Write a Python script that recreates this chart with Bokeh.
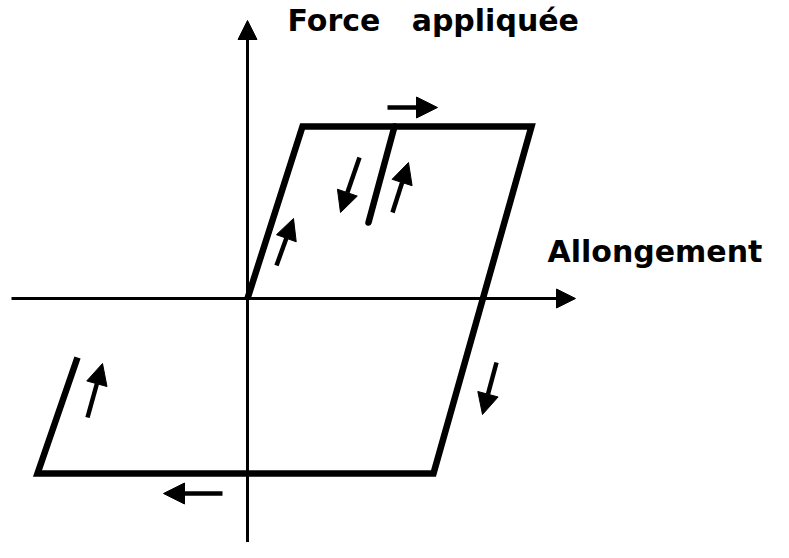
from bokeh.plotting import figure
from bokeh.models import Range1d, Arrow, NormalHead, ColumnDataSource
from bokeh.core.properties import value
from bokeh.embed import file_html
from bokeh.resources import INLINE

# Hysteresis loop (allongement, force) in arbitrary units
loop_x = [0.0, 0.55, 2.84, 1.86, -2.10, -1.70]
loop_y = [0.0, 1.72, 1.72, -1.75, -1.75, -0.59]

# Inner unloading / reloading branch
inner_x = [1.47, 1.21]
inner_y = [1.72, 0.76]

# Direction arrows (start -> end)
arr_x0 = [1.40, 1.12, 1.45, 0.29, 2.49, -0.25, -1.60]
arr_y0 = [1.91, 1.41, 0.86, 0.33, -0.64, -1.95, -1.19]
arr_x1 = [1.90, 0.93, 1.61, 0.46, 2.35, -0.84, -1.45]
arr_y1 = [1.91, 0.86, 1.36, 0.80, -1.16, -1.95, -0.65]

# Axes
xaxis_x = [-2.36, 3.28]
yaxis_y = [-2.70, 2.78]

labels = ["Force\u00a0\u00a0\u00a0appliquée", "Allongement"]
label_x = [0.40, 3.00]
label_y = [2.78, 0.47]

p = figure(width=773, height=542, output_backend="svg", toolbar_location=None,
           x_range=Range1d(-2.47, 5.26), y_range=Range1d(-2.44, 2.98),
           min_border=0)
p.axis.visible = False
p.grid.visible = False
p.outline_line_color = None
p.background_fill_color = "white"

# axes with arrow heads
p.add_layout(Arrow(end=NormalHead(size=19, fill_color="black", line_color="black"),
                   x_start=xaxis_x[0], y_start=0, x_end=xaxis_x[1], y_end=0,
                   line_width=3, line_color="black"))
p.add_layout(Arrow(end=NormalHead(size=19, fill_color="black", line_color="black"),
                   x_start=0, y_start=yaxis_y[0], x_end=0, y_end=yaxis_y[1],
                   line_width=3, line_color="black"))

p.line(loop_x, loop_y, line_width=6.5, line_color="black", line_join="miter", line_cap="butt")
p.line(inner_x, inner_y, line_width=6.5, line_color="black", line_cap="round")

src = ColumnDataSource(dict(x0=arr_x0, y0=arr_y0, x1=arr_x1, y1=arr_y1))
p.add_layout(Arrow(end=NormalHead(size=21, fill_color="black", line_color="black"),
                   x_start="x0", y_start="y0", x_end="x1", y_end="y1", source=src,
                   line_width=4.5, line_color="black"))

p.text(x=[label_x[0]], y=[label_y[0]], text=[labels[0]], text_font=value("DejaVu Sans"),
       text_font_style="bold", text_font_size="30px", text_baseline="alphabetic",
       text_color="black")
p.text(x=[label_x[1]], y=[label_y[1]], text=[labels[1]], text_font=value("DejaVu Sans"),
       text_font_style="bold", text_font_size="30px", text_baseline="alphabetic",
       text_color="black")

open("out.html", "w").write(file_html(p, INLINE))
